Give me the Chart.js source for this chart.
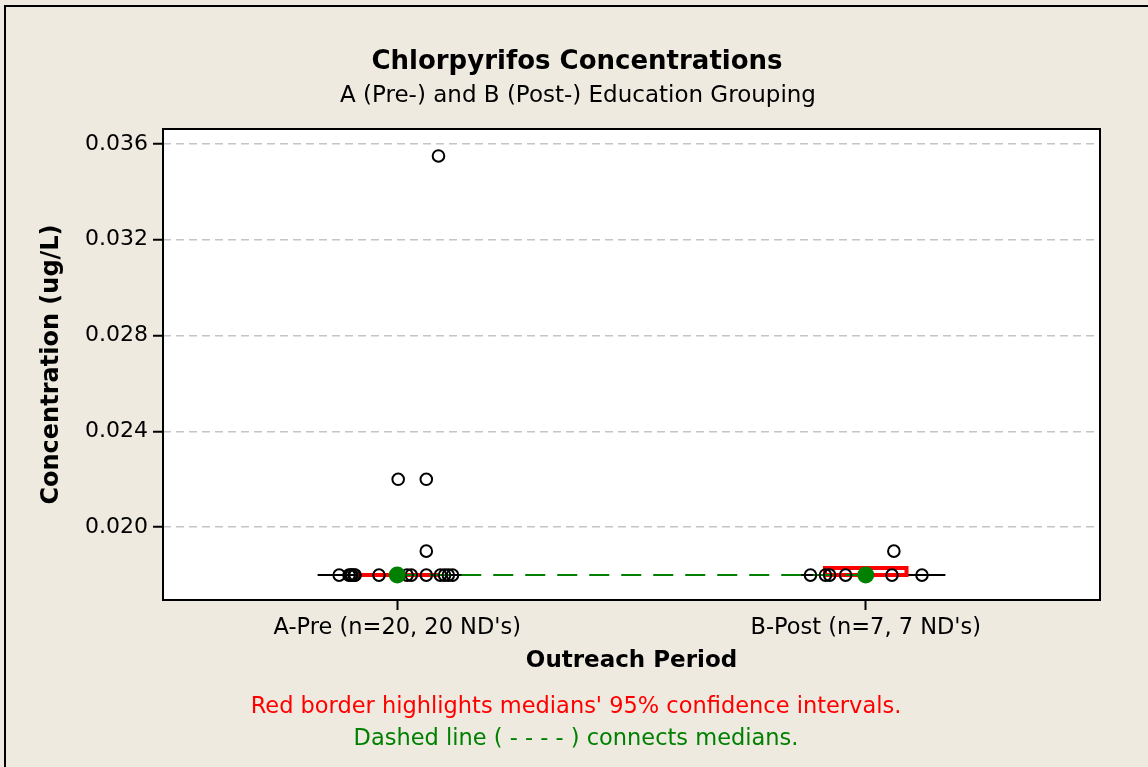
<!DOCTYPE html>
<html>
<head>
<meta charset="utf-8">
<title>Chlorpyrifos Concentrations</title>
<script src="https://cdn.jsdelivr.net/npm/chart.js@4.4.1/dist/chart.umd.min.js"></script>
<style>
  body { margin: 0; background: #EEEAE0; }
  #wrap { width: 1148px; height: 767px; }
</style>
</head>
<body>
<div id="wrap"><canvas id="chart" width="1148" height="767"></canvas></div>
<script>
// groups on the x axis (plotted at x = 1 and x = 2)
const groups = ["A-Pre (n=20, 20 ND's)", "B-Post (n=7, 7 ND's)"];

// individual values, with the horizontal jitter
const preY = [0.0355, 0.022, 0.022, 0.019,
  0.018, 0.018, 0.018, 0.018, 0.018, 0.018, 0.018, 0.018,
  0.018, 0.018, 0.018, 0.018, 0.018, 0.018, 0.018, 0.018];
const preX = [1.088, 1.002, 1.062, 1.062,
  0.876, 0.897, 0.901, 0.903, 0.908, 0.910, 0.961, 1.000,
  1.004, 1.021, 1.030, 1.062, 1.092, 1.101, 1.109, 1.118];
const postY = [0.018, 0.018, 0.018, 0.018, 0.018, 0.018, 0.019];
const postX = [1.882, 1.914, 1.923, 1.957, 2.056, 2.120, 2.060];

// medians and their 95% confidence intervals
const medians = [0.018, 0.018];
const ciLow = [0.018, 0.018];
const ciHigh = [0.018, 0.0183];

const yTicks = [0.020, 0.024, 0.028, 0.032, 0.036];

const FONT = '"DejaVu Sans", sans-serif';
const BOX_HALF = 0.17;
const CI_HALF = 0.087;

const points = preX.map((x, i) => ({x: x, y: preY[i]}))
  .concat(postX.map((x, i) => ({x: x, y: postY[i]})));

const datasets = [];

// median dots on top
datasets.push({
  data: medians.map((m, i) => ({x: i + 1, y: m})),
  pointRadius: 8.5,
  pointBackgroundColor: '#008000',
  pointBorderColor: '#008000',
  borderWidth: 0,
  order: 0
});

datasets.push({
  data: points,
  pointRadius: 5.8,
  pointBorderWidth: 2,
  pointBorderColor: '#000',
  pointBackgroundColor: 'rgba(0,0,0,0)',
  order: 1
});

// dashed line connecting medians
datasets.push({
  data: medians.map((m, i) => ({x: i + 1, y: m})),
  showLine: true,
  borderColor: '#008000',
  borderWidth: 2,
  borderDash: [20, 12],
  pointRadius: 0,
  order: 2
});

// red confidence-interval boxes
medians.forEach((m, i) => {
  const c = i + 1;
  datasets.push({
    data: [
      {x: c - CI_HALF, y: ciLow[i]}, {x: c + CI_HALF, y: ciLow[i]},
      {x: c + CI_HALF, y: ciHigh[i]}, {x: c - CI_HALF, y: ciHigh[i]},
      {x: c - CI_HALF, y: ciLow[i]}
    ],
    showLine: true,
    borderColor: '#FF0000',
    borderWidth: 4,
    pointRadius: 0,
    order: 3
  });
});

// collapsed boxes (all values non-detect at the same level)
medians.forEach((m, i) => {
  const c = i + 1;
  datasets.push({
    data: [{x: c - BOX_HALF, y: m}, {x: c + BOX_HALF, y: m}],
    showLine: true,
    borderColor: '#000',
    borderWidth: 2,
    pointRadius: 0,
    order: 4
  });
});

const framePlugin = {
  id: 'frame',
  beforeDraw(chart) {
    const {ctx, chartArea: a} = chart;
    ctx.save();
    ctx.fillStyle = '#EEEAE0';
    ctx.fillRect(0, 0, chart.width, chart.height);
    ctx.strokeStyle = '#000';
    ctx.lineWidth = 2;
    ctx.beginPath();
    ctx.moveTo(5, chart.height + 2);
    ctx.lineTo(5, 6);
    ctx.lineTo(chart.width + 2, 6);
    ctx.stroke();
    ctx.fillStyle = '#fff';
    ctx.fillRect(a.left, a.top, a.right - a.left, a.bottom - a.top);
    ctx.restore();
  },
  afterDraw(chart) {
    const {ctx, chartArea: a} = chart;
    ctx.save();
    ctx.strokeStyle = '#000';
    ctx.lineWidth = 2;
    ctx.strokeRect(a.left, a.top, a.right - a.left, a.bottom - a.top);
    ctx.textAlign = 'center';
    ctx.textBaseline = 'middle';
    ctx.fillStyle = '#000';
    ctx.font = 'bold 26px ' + FONT;
    ctx.fillText('Chlorpyrifos Concentrations', 577, 62);
    ctx.font = '23px ' + FONT;
    ctx.fillText('A (Pre-) and B (Post-) Education Grouping', 578, 96);
    ctx.font = '22.5px ' + FONT;
    ctx.fillStyle = '#FF0000';
    ctx.fillText("Red border highlights medians' 95% confidence intervals.", 576, 707);
    ctx.fillStyle = '#008000';
    ctx.fillText('Dashed line ( - - - - ) connects medians.', 576, 739);
    ctx.restore();
  }
};

new Chart(document.getElementById('chart'), {
  type: 'scatter',
  data: {datasets: datasets},
  plugins: [framePlugin],
  options: {
    responsive: false,
    animation: false,
    events: [],
    layout: {padding: {top: 129, right: 48, bottom: 0, left: 0}},
    plugins: {
      legend: {display: false},
      tooltip: {enabled: false}
    },
    scales: {
      x: {
        type: 'linear',
        min: 0.5,
        max: 2.5,
        afterFit(scale) { scale.height = 167; },
        afterBuildTicks(scale) { scale.ticks = groups.map((g, i) => ({value: i + 1})); },
        ticks: {
          color: '#000',
          padding: 4.6,
          maxRotation: 0,
          font: {family: FONT, size: 22.5},
          callback: (v) => groups[v - 1]
        },
        grid: {drawOnChartArea: false, tickLength: 10, tickColor: '#000', tickWidth: 2},
        border: {display: false},
        title: {
          display: true,
          text: 'Outreach Period',
          color: '#000',
          font: {family: FONT, size: 23, weight: 'bold', lineHeight: 1.2},
          padding: {top: 0, bottom: 92.2}
        }
      },
      y: {
        min: 0.01696,
        max: 0.036625,
        afterFit(scale) { scale.width = 163; },
        afterBuildTicks(scale) { scale.ticks = yTicks.map(v => ({value: v})); },
        ticks: {
          color: '#000',
          padding: 5,
          font: {family: FONT, size: 22},
          callback: (v) => v.toFixed(3)
        },
        grid: {color: '#C4C4C4', lineWidth: 1.5, tickLength: 10, tickColor: '#000', tickWidth: 2},
        border: {display: false, dash: [8, 5]},
        title: {
          display: true,
          text: 'Concentration (ug/L)',
          color: '#000',
          font: {family: FONT, size: 24, weight: 'bold', lineHeight: 1.2},
          padding: {top: 37.6, bottom: 0}
        }
      }
    }
  }
});
</script>
</body>
</html>
